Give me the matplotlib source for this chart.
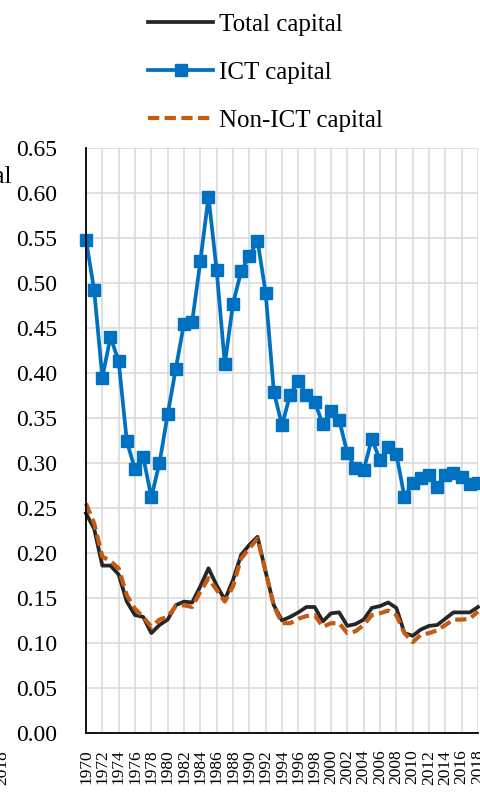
"""
Capital series 1970-2018: total, ICT and non-ICT.

Single-panel line chart, Excel look (serif text, light grid every
0.05 and every second year, legend stacked above the plot).
"""
import matplotlib
matplotlib.use("Agg")
import matplotlib.pyplot as plt

YEARS = list(range(1970, 2019))

TOTAL = [0.244, 0.227, 0.186, 0.186, 0.176, 0.146, 0.131, 0.129, 0.111, 0.120,
         0.126, 0.142, 0.146, 0.145, 0.163, 0.183, 0.164, 0.148, 0.170, 0.198,
         0.209, 0.218, 0.179, 0.142, 0.125, 0.129, 0.134, 0.140, 0.140, 0.124,
         0.133, 0.134, 0.119, 0.121, 0.126, 0.139, 0.141, 0.145, 0.139, 0.111,
         0.108, 0.115, 0.119, 0.120, 0.127, 0.134, 0.134, 0.134, 0.140]

ICT = [0.548, 0.492, 0.395, 0.440, 0.413, 0.324, 0.293, 0.307, 0.262, 0.300,
       0.354, 0.405, 0.455, 0.457, 0.524, 0.596, 0.514, 0.410, 0.477, 0.513,
       0.530, 0.547, 0.489, 0.379, 0.342, 0.376, 0.391, 0.376, 0.368, 0.343,
       0.358, 0.348, 0.311, 0.294, 0.292, 0.327, 0.303, 0.318, 0.310, 0.262,
       0.278, 0.283, 0.287, 0.273, 0.287, 0.289, 0.284, 0.277, 0.278]

NON_ICT = [0.255, 0.233, 0.196, 0.191, 0.183, 0.153, 0.138, 0.129, 0.118, 0.126,
           0.129, 0.141, 0.142, 0.140, 0.157, 0.172, 0.159, 0.146, 0.163, 0.194,
           0.205, 0.216, 0.179, 0.141, 0.122, 0.122, 0.127, 0.130, 0.131, 0.118,
           0.122, 0.122, 0.111, 0.113, 0.120, 0.131, 0.133, 0.136, 0.131, 0.111,
           0.101, 0.109, 0.111, 0.114, 0.120, 0.126, 0.126, 0.127, 0.135]

LABELS = ["Total capital", "ICT capital", "Non-ICT capital"]
Y_TICKS = [0.00, 0.05, 0.10, 0.15, 0.20, 0.25, 0.30, 0.35, 0.40, 0.45,
           0.50, 0.55, 0.60, 0.65]
X_TICKS = list(range(1970, 2019, 2))

W, H = 481, 809
SERIF = ["Liberation Serif", "DejaVu Serif"]


def main() -> None:
    plt.rcParams["font.family"] = SERIF
    fig = plt.figure(figsize=(W / 100, H / 100), dpi=100)
    ax = fig.add_axes([86 / W, (H - 733) / H, (478 - 86) / W, (733 - 148) / H])

    ax.plot(YEARS, TOTAL, color="#262626", lw=2.7, label=LABELS[0],
            clip_on=False, zorder=3)
    ax.plot(YEARS, ICT, color="#0070C0", lw=2.7, marker="s", ms=8.4,
            label=LABELS[1], clip_on=False, zorder=4)
    ax.plot(YEARS, NON_ICT, color="#C55A11", lw=3.0, dashes=(2.7, 1.3),
            label=LABELS[2], clip_on=False, zorder=5)

    ax.set_xlim(1970, 2018)
    ax.set_ylim(0, 0.65)
    ax.set_xticks(X_TICKS)
    ax.set_xticklabels([str(y) for y in X_TICKS], rotation=90, fontsize=12.5,
                       va="top")
    ax.set_yticks(Y_TICKS)
    ax.set_yticklabels([f"{v:.2f}" for v in Y_TICKS], fontsize=17)
    ax.tick_params(axis="x", length=0, pad=12)
    ax.tick_params(axis="y", length=0, pad=21)

    ax.grid(True, color="#D9D9D9", lw=1.1)
    ax.set_axisbelow(True)
    for side in ("top", "right"):
        ax.spines[side].set_visible(False)
    for side in ("left", "bottom"):
        ax.spines[side].set_color("black")
        ax.spines[side].set_linewidth(1.3)
        ax.spines[side].set_zorder(6)

    fig.legend(loc="upper left", bbox_to_anchor=(148 / W, 1 - 13 / H),
               frameon=False, fontsize=18, borderpad=0, borderaxespad=0,
               handlelength=2.6, handletextpad=0.25, labelspacing=1.03)

    # fragments of the neighbouring panel cut by the crop
    fig.text(11 / W, 1 - 183 / H, "capital", ha="right", va="baseline",
             fontsize=18)
    fig.text(2 / W, 1 - 750 / H, "2018", rotation=90, ha="center", va="top",
             fontsize=12.5)

    fig.savefig("out.png", dpi=100)
    plt.close(fig)


if __name__ == "__main__":
    main()
